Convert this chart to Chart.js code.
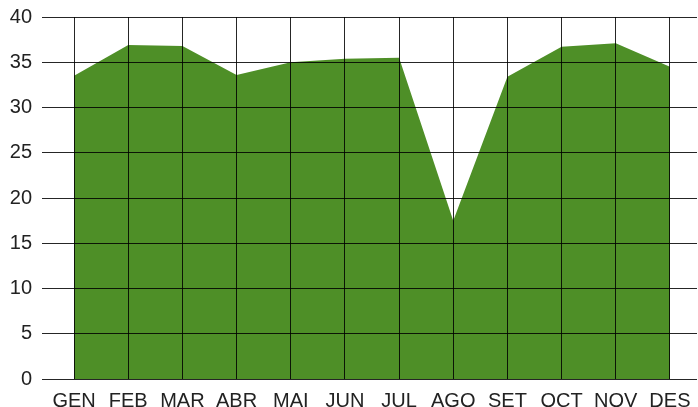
<!DOCTYPE html>
<html lang="ca">
<head>
    <meta charset="UTF-8">
    <title>Chart</title>
    <style>
        body {
            margin: 0;
            padding: 0;
            background-color: #ffffff;
        }
        #areaChart {
            display: block;
        }
    </style>
</head>
<body>
    <canvas id="areaChart" width="698" height="407"></canvas>
    <script src="https://cdn.jsdelivr.net/npm/chart.js@4/dist/chart.umd.min.js"></script>
    <script>
        // Months (Catalan abbreviations) and values
        const months = ["GEN", "FEB", "MAR", "ABR", "MAI", "JUN", "JUL", "AGO", "SET", "OCT", "NOV", "DES"];
        const values = [33.5, 36.9, 36.8, 33.6, 35.0, 35.4, 35.5, 17.5, 33.4, 36.7, 37.1, 34.5];
        const yTicks = [0, 5, 10, 15, 20, 25, 30, 35, 40];

        const green = "rgb(78, 143, 39)";
        const gridColor = "rgba(0, 0, 0, 0.85)";
        const tickFont = { family: "'Liberation Sans', Arial, sans-serif", size: 20 };

        const ctx = document.getElementById("areaChart").getContext("2d");
        new Chart(ctx, {
            type: "line",
            data: {
                labels: months,
                datasets: [{
                    data: values,
                    backgroundColor: green,
                    borderColor: green,
                    borderWidth: 0,
                    fill: "origin",
                    pointRadius: 0,
                    tension: 0
                }]
            },
            options: {
                responsive: false,
                animation: false,
                layout: { padding: { top: 17, right: 1, left: 0, bottom: 0 } },
                plugins: {
                    legend: { display: false },
                    tooltip: { enabled: false }
                },
                scales: {
                    x: {
                        offset: true,
                        border: { display: false },
                        grid: {
                            z: 1, // grid over the filled area
                            offset: false,
                            color: gridColor,
                            lineWidth: 1,
                            drawTicks: false
                        },
                        ticks: {
                            color: "#222",
                            font: tickFont,
                            padding: 10,
                            maxRotation: 0,
                            autoSkip: false
                        },
                        afterFit: function (scale) {
                            scale.height = 28;
                            scale.paddingLeft = 0;
                            scale.paddingRight = 0;
                        }
                    },
                    y: {
                        min: 0,
                        max: 40,
                        border: { display: false },
                        grid: {
                            z: 1,
                            color: gridColor,
                            lineWidth: 1,
                            drawTicks: true,
                            tickLength: 5
                        },
                        afterBuildTicks: function (scale) {
                            scale.ticks = yTicks.map(v => ({ value: v }));
                        },
                        ticks: {
                            color: "#222",
                            font: tickFont,
                            padding: 10
                        },
                        afterFit: function (scale) {
                            scale.width = 47;
                            scale.paddingTop = 0;
                            scale.paddingBottom = 0;
                        }
                    }
                }
            }
        });
    </script>
</body>
</html>
